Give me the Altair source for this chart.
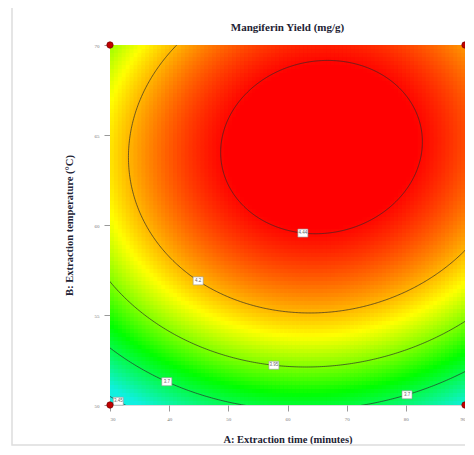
import numpy as np
import pandas as pd
import altair as alt

# Quadratic response-surface model in coded units: A=(t-60)/30, B=(T-60)/10
coef_names = ["b0", "A", "B", "AB", "A2", "B2"]
coef_values = [4.45, 0.09, 0.33, 0.04, -0.28, -0.39]

time_range = [30, 90]
temp_range = [50, 70]
time_ticks = [30, 40, 50, 60, 70, 80, 90]
temp_ticks = [50, 55, 60, 65, 70]

contour_levels = [4.44, 4.2, 3.95, 3.7, 3.45]
label_levels = [4.44, 4.2, 3.95, 3.7, 3.7, 3.45]
label_times = [62.6, 44.9, 57.7, 39.6, 80.2, 31.4]
label_texts = ["4.44", "4.2", "3.95", "3.7", "3.7", "3.45"]

design_time = [30, 90, 30, 90]
design_temp = [50, 50, 70, 70]

color_stops = [3.5, 3.8, 4.1, 4.45]
color_range = ["#10F0E0", "#00FF00", "#FFFF00", "#FF0000"]

chart_title = "Mangiferin Yield (mg/g)"

b0, b1, b2, b12, b11, b22 = coef_values


def model(A, B):
    return b0 + b1 * A + b2 * B + b12 * A * B + b11 * A * A + b22 * B * B


# ---- surface grid
N = 90
t_edges = np.linspace(time_range[0], time_range[1], N + 1)
T_edges = np.linspace(temp_range[0], temp_range[1], N + 1)
rows = []
for i in range(N):
    for j in range(N):
        tc = (t_edges[i] + t_edges[i + 1]) / 2
        Tc = (T_edges[j] + T_edges[j + 1]) / 2
        A = (tc - 60) / 30
        B = (Tc - 60) / 10
        rows.append({"i": i, "j": j, "y": round(float(model(A, B)), 4)})
grid = pd.DataFrame(rows)
dt = (time_range[1] - time_range[0]) / N
dT = (temp_range[1] - temp_range[0]) / N

# ---- contour lines (ellipses around the stationary point)
M = np.array([[2 * b11, b12], [b12, 2 * b22]])
A0, B0 = np.linalg.solve(M, [-b1, -b2])
Ymax = model(A0, B0)
theta = np.linspace(0, 2 * np.pi, 721)
c, s = np.cos(theta), np.sin(theta)
q = -(b11 * c * c + b22 * s * s + b12 * c * s)
lines = []
for lev in contour_levels:
    r = np.sqrt((Ymax - lev) / q)
    A = A0 + r * c
    B = B0 + r * s
    for k in range(len(theta)):
        lines.append({"level": lev, "k": k, "t": 60 + 30 * A[k], "T": 60 + 10 * B[k]})
lines = pd.DataFrame(lines)

# ---- contour labels placed on the lower branch of each contour
lab = []
for tt, lev, txt in zip(label_times, label_levels, label_texts):
    A = (tt - 60) / 30
    p = b2 + b12 * A
    c0 = b0 + b1 * A + b11 * A * A - lev
    D = p * p - 4 * b22 * c0
    B = (-p + np.sqrt(D)) / (2 * b22)
    lab.append({"t": tt, "T": 60 + 10 * B, "txt": txt})
lab = pd.DataFrame(lab)

design = pd.DataFrame({"t": design_time, "T": design_temp})

xs = alt.Scale(domain=time_range, nice=False, zero=False)
ys = alt.Scale(domain=temp_range, nice=False, zero=False)

title_font = "Liberation Serif"

x_axis = alt.Axis(values=time_ticks, title="A: Extraction time (minutes)", labelFontSize=5,
                  labelColor="#777", tickColor="#999", tickSize=6, labelPadding=5,
                  domain=False, grid=False, titleFont=title_font, titleFontSize=10.5,
                  titleFontWeight="bold", titleColor="#222233", titlePadding=13,
                  labelFont=title_font)
y_axis = alt.Axis(values=temp_ticks, title="B: Extraction temperature (°C)", labelFontSize=5,
                  labelColor="#777", tickColor="#999", tickSize=6, labelPadding=5,
                  domain=False, grid=False, titleFont=title_font, titleFontSize=10.5,
                  titleFontWeight="bold", titleColor="#222233", titlePadding=20,
                  labelFont=title_font)

heat = alt.Chart(grid).transform_calculate(
    t0=f"{time_range[0]} + datum.i * {dt}",
    t1=f"min({time_range[1]}, {time_range[0]} + (datum.i + 1.6) * {dt})",
    T0=f"{temp_range[0]} + datum.j * {dT}",
    T1=f"min({temp_range[1]}, {temp_range[0]} + (datum.j + 1.6) * {dT})",
).mark_rect(clip=True).encode(
    x=alt.X("t0:Q", scale=xs, axis=x_axis),
    x2="t1:Q",
    y=alt.Y("T0:Q", scale=ys, axis=y_axis),
    y2="T1:Q",
    color=alt.Color("y:Q", scale=alt.Scale(domain=color_stops, range=color_range,
                                           clamp=True, interpolate="rgb"), legend=None),
)

contours = alt.Chart(lines).mark_line(clip=True, color="#2a2a2a", strokeWidth=0.8,
                                      opacity=0.85).encode(
    x=alt.X("t:Q", scale=xs), y=alt.Y("T:Q", scale=ys),
    detail="level:N", order="k:Q",
)

boxes = alt.Chart(lab).mark_point(shape="M-1.25,-1L1.25,-1L1.25,1L-1.25,1Z", filled=True,
                                  fill="white", stroke="#999", strokeWidth=0.6, size=64,
                                  opacity=1).encode(
    x=alt.X("t:Q", scale=xs), y=alt.Y("T:Q", scale=ys))

texts = alt.Chart(lab).mark_text(fontSize=4.5, color="#666", font="Liberation Sans").encode(
    x=alt.X("t:Q", scale=xs), y=alt.Y("T:Q", scale=ys), text="txt:N")

pts = alt.Chart(design).mark_point(filled=True, fill="#C00000", stroke="#800000",
                                   strokeWidth=0.8, size=40, opacity=1).encode(
    x=alt.X("t:Q", scale=xs), y=alt.Y("T:Q", scale=ys))

# light frame around the whole figure (decoration)
frame = alt.Chart(pd.DataFrame({"f": [0]})).mark_rect(
    fill=None, stroke="#dddddd", strokeWidth=1.5).encode(
    x=alt.value(-98), x2=alt.value(362), y=alt.value(-40), y2=alt.value(400))

# chart title, centred over the plot area
title_mark = alt.Chart(pd.DataFrame({"title": [chart_title]})).mark_text(
    font=title_font, fontSize=11, fontWeight="bold", color="#222233",
    align="center", baseline="middle").encode(
    x=alt.value(177.5), y=alt.value(-17), text="title:N")

chart = alt.layer(heat, contours, boxes, texts, pts, frame, title_mark).properties(
    width=355, height=360,
    autosize=alt.AutoSizeParams(type="none"),
    padding={"left": 102, "top": 37, "right": 0, "bottom": 42},
).configure_view(stroke="#999", strokeWidth=1).configure(background="white")

chart.save("out.html", embed_options={"renderer": "svg", "actions": False})
